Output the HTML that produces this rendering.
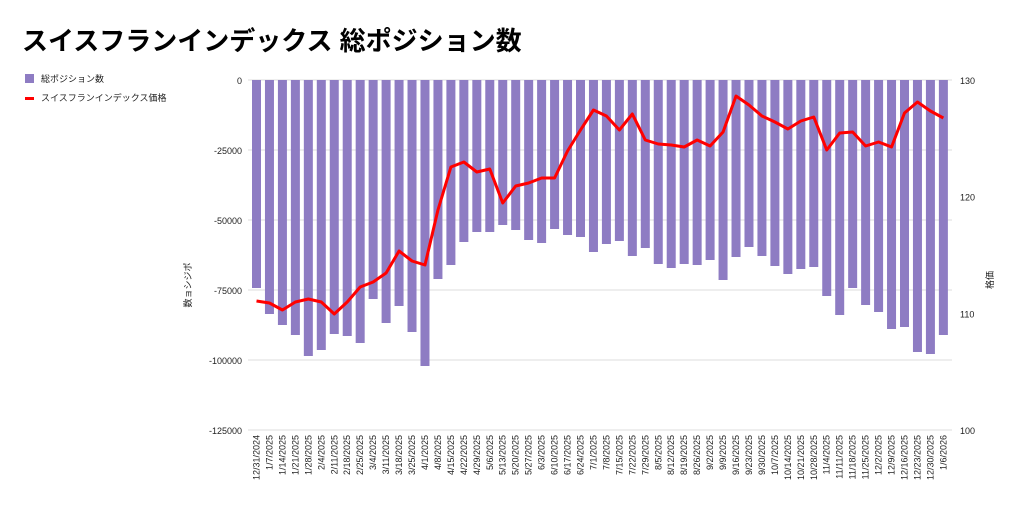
<!DOCTYPE html>
<html><head><meta charset="utf-8"><style>
body{margin:0;background:#fff;width:1024px;height:509px;overflow:hidden;font-family:"Liberation Sans","Noto Sans CJK JP",sans-serif}
</style></head><body>
<svg id="c" width="1024" height="509" xmlns="http://www.w3.org/2000/svg" font-family="Liberation Sans, Noto Sans CJK JP, sans-serif">
<text x="22" y="50" font-size="26" font-weight="bold" fill="#000">スイスフランインデックス 総ポジション数</text>
<rect x="25" y="74" width="9" height="9" fill="#8e7cc3"/>
<text x="41" y="82" font-size="9" fill="#222">総ポジション数</text>
<rect x="25" y="97" width="9" height="3" fill="#ff0000"/>
<text x="41" y="101" font-size="9" fill="#222">スイスフランインデックス価格</text>
<text transform="translate(191,285) rotate(-90)" font-size="9" text-anchor="middle" fill="#222">数ョシジポ</text>
<text transform="translate(993,280) rotate(-90)" font-size="9" text-anchor="middle" fill="#222">格価</text>
<g id="g"></g>
</svg>
<script>
var bars=[288,314,325,335,356,350,334,336,343,299,323,306,332,366,279,265,242,232,232,225,230,240,243,229,235,237,252,244,241,256,248,264,268,264,265,260,280,257,247,256,266,274,269,267,296,315,288,305,312,329,327,352,354,335];
var line=[301,303,310,302,299,302,314,302,287,282,273,251,261,265,210,167,162,172,169,203,186,183,178,178,151,130,110,116,130,114,140,144,145,147,140,146,132,96,105,116,122,129,121,117,150,133,132,146,142,147,113,102,111,118];
var s='';
var ticks=[0,-25000,-50000,-75000,-100000,-125000];
for(var i=0;i<6;i++){var y=80+i*70;s+='<line x1="248" x2="952" y1="'+y+'" y2="'+y+'" stroke="#ddd" stroke-width="1"/>';
s+='<text x="242" y="'+(y+4)+'" font-size="9" text-anchor="end" fill="#222">'+ticks[i]+'</text>';}
var r=[[130,80],[120,196.7],[110,313.3],[100,430]];
r.forEach(function(t){s+='<text x="960" y="'+(t[1]+4)+'" font-size="9" fill="#222">'+t[0]+'</text>';});
var d=new Date(2024,11,31),pts=[];
for(var i=0;i<54;i++){var cx=256.5+i*12.96;
s+='<rect x="'+(cx-4.5)+'" y="80" width="9" height="'+(bars[i]-80)+'" fill="#8e7cc3"/>';
pts.push(cx+','+line[i]);
var dd=new Date(d.getTime()+i*7*864e5);var lab=(dd.getMonth()+1)+'/'+dd.getDate()+'/'+dd.getFullYear();
s+='<text transform="translate('+(cx+3)+',435) rotate(-90)" font-size="9" text-anchor="end" fill="#222">'+lab+'</text>';}
s+='<polyline points="'+pts.join(' ')+'" fill="none" stroke="#ff0000" stroke-width="3" stroke-linejoin="round"/>';
document.getElementById('g').innerHTML=s;
</script>
</body></html>
